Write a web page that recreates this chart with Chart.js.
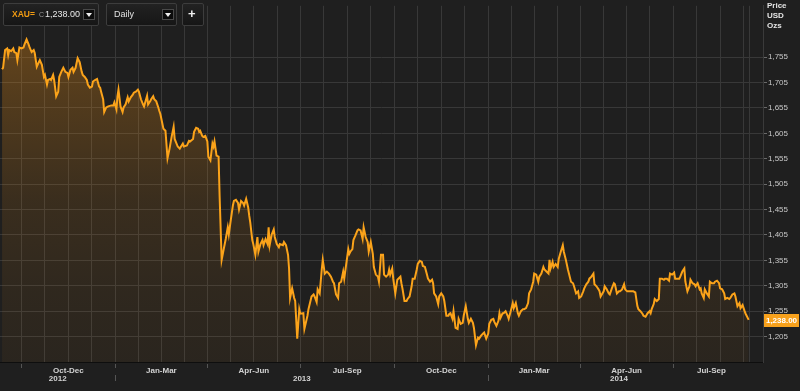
<!DOCTYPE html>
<html><head><meta charset="utf-8">
<script src="https://cdn.jsdelivr.net/npm/chart.js@4.4.1/dist/chart.umd.min.js"></script>
<style>
html,body{margin:0;padding:0;background:#1f1f1f;width:800px;height:391px;overflow:hidden;font-family:"Liberation Sans",Arial,sans-serif;}
#wrap{position:relative;width:800px;height:391px;}
#c{position:absolute;left:0;top:0;}
.box{position:absolute;top:3px;height:23px;background:linear-gradient(#222,#161616);border:1px solid #3d3d3d;border-radius:2px;box-sizing:border-box;}
.txt{position:absolute;top:5px;font-size:9px;line-height:11px;white-space:nowrap;}
.btn{position:absolute;top:5px;width:12px;height:11px;background:#0b0b0b;border:1px solid #4a4a4a;box-sizing:border-box;}
.btn:after{content:"";position:absolute;left:2px;top:3px;border-left:3px solid transparent;border-right:3px solid transparent;border-top:4px solid #eee;}
</style></head>
<body><div id="wrap">
<canvas id="c" width="800" height="391"></canvas>
<div class="box" style="left:3px;width:96px;">
  <span class="txt" style="left:8px;color:#f39c12;font-weight:bold;font-size:8.5px;">XAU=</span>
  <span class="txt" style="left:35px;color:#9a9a9a;font-size:7px;">C</span>
  <span class="txt" style="left:41px;color:#e8e8e8;" id="hdrPrice"></span>
  <div class="btn" style="left:79px;"></div>
</div>
<div class="box" style="left:106px;width:71px;">
  <span class="txt" style="left:7px;color:#e0e0e0;">Daily</span>
  <div class="btn" style="left:55px;"></div>
</div>
<div class="box" style="left:182px;width:22px;">
  <span class="txt" style="left:5px;top:3px;color:#f0f0f0;font-weight:bold;font-size:13px;line-height:14px;">+</span>
</div>
</div>
<script>
// ---- data (day offsets from 2012-09-10, daily gold price USD/oz) ----
const startDate = '2012-09-10';
const days = [2,3,5,7,8,9,11,13,14,16,17,19,21,23,24,26,28,29,31,33,34,36,38,39,41,43,44,46,47,49,50,52,53,55,57,58,60,62,64,66,67,69,71,72,74,76,78,80,81,83,85,86,88,90,91,93,95,97,98,99,101,102,104,106,109,111,112,114,115,116,118,120,121,123,125,126,128,130,131,133,135,136,138,140,141,144,145,147,148,150,151,153,155,156,
157,160,162,164,166,168,170,171,174,176,179,180,183,185,186,189,190,192,194,195,196,198,199,201,203,204,206,208,209,210,212,214,215,217,219,221,223,224,226,228,229,231,233,234,236,238,239,241,243,244,245,247,248,250,252,253,255,257,258,260,262,263,264,266,268,269,271,273,274,277,278,280,282,283,284,286,288,289,291,293,
294,297,298,301,302,305,307,308,310,311,313,315,316,318,320,322,324,326,327,329,331,332,334,336,337,339,341,342,343,345,346,348,350,351,353,355,356,358,360,361,363,365,366,368,370,371,373,375,376,378,380,381,382,384,385,387,389,390,392,393,394,396,398,399,401,403,404,406,408,409,411,413,414,416,418,419,421,423,424,425,427,429,430,432,434,435,437,439,440,441,
443,444,446,448,449,451,453,454,456,458,459,461,463,464,466,468,469,471,473,474,476,478,479,481,483,484,486,488,489,490,492,493,495,497,498,500,502,503,505,507,508,510,512,513,515,517,518,520,522,523,525,527,528,530,532,533,535,537,538,539,541,542,544,546,547,549,551,552,554,556,557,559,561,562,564,566,567,569,571,572,574,576,577,579,581,582,584,586,587,
588,591,592,594,596,597,599,601,602,604,606,607,609,611,612,614,616,620,622,624,625,627,629,630,632,634,636,637,638,640,641,643,645,646,648,650,651,653,655,656,658,660,661,663,665,666,668,670,671,673,675,676,678,680,681,683,685,686,687,689,690,692,694,695,697,699,700,702,704,705,707,709,710,712,714,715,717,719,720,722,724,725,727,729,730,733];
const prices = [1731,1734,1769,1772,1759,1769,1767,1772,1765,1763,1749,1774,1772,1774,1780,1790,1780,1774,1765,1769,1763,1736,1745,1749,1740,1716,1720,1701,1710,1712,1710,1720,1710,1678,1687,1716,1726,1734,1726,1724,1716,1730,1734,1726,1734,1753,1745,1726,1720,1716,1710,1701,1695,1697,1707,1710,1712,1697,1695,1687,1672,1647,1656,1658,1660,1660,1666,1652,1678,1691,1658,1647,1656,1662,1676,1668,1676,1681,1685,1687,1691,1687,1672,1662,1658,1679,1662,1668,1672,1678,1672,1668,1656,1649,
1643,1614,1610,1556,1575,1598,1618,1594,1579,1575,1585,1579,1581,1590,1589,1594,1608,1616,1614,1608,1610,1600,1598,1600,1589,1559,1552,1585,1579,1589,1561,1559,1482,1356,1377,1397,1420,1406,1435,1463,1472,1474,1468,1455,1472,1468,1463,1476,1459,1443,1430,1395,1387,1366,1401,1372,1387,1395,1385,1397,1387,1420,1385,1406,1416,1401,1387,1381,1387,1385,1391,1385,1366,1339,1281,1300,1281,1275,1201,1259,
1250,1251,1220,1246,1259,1284,1288,1284,1273,1298,1290,1337,1356,1329,1333,1329,1323,1313,1310,1288,1281,1310,1313,1333,1319,1348,1377,1368,1372,1377,1395,1404,1414,1416,1414,1397,1420,1401,1391,1372,1391,1368,1342,1327,1323,1313,1366,1366,1327,1323,1327,1337,1327,1339,1319,1290,1317,1319,1323,1310,1300,1275,1275,1279,1284,1304,1319,1319,1337,1348,1354,1352,1344,1342,1327,1319,1313,1317,1310,1290,1284,1269,1284,1290,1284,1275,1246,1246,1250,1251,
1240,1255,1222,1220,1240,1230,1232,1246,1265,1240,1232,1240,1232,1222,1188,1203,1201,1207,1211,1213,1201,1211,1230,1238,1240,1234,1226,1236,1251,1242,1251,1251,1255,1246,1240,1255,1271,1261,1271,1251,1246,1255,1259,1259,1261,1271,1290,1298,1313,1329,1327,1313,1323,1329,1342,1337,1333,1329,1356,1339,1352,1342,1348,1342,1358,1372,1385,1372,1356,1337,1329,1313,1310,1304,1290,1294,1281,1284,1294,1300,1308,1313,1319,1323,1329,1308,1304,1298,1294,
1284,1294,1304,1298,1290,1288,1300,1310,1308,1290,1294,1294,1298,1308,1298,1294,1294,1294,1292,1265,1259,1255,1250,1246,1244,1251,1255,1251,1259,1269,1279,1275,1279,1319,1319,1317,1319,1319,1315,1329,1327,1331,1319,1319,1319,1323,1333,1339,1313,1294,1304,1317,1310,1308,1304,1310,1298,1300,1290,1281,1298,1290,1284,1313,1310,1310,1313,1315,1310,1300,1298,1290,1279,1281,1279,1281,1288,1290,1284,1265,1271,1261,1267,1255,1250,1238];
const lastPrice = 1238.00;
const yTicks = [1205,1255,1305,1355,1405,1455,1505,1555,1605,1655,1705,1755];
const quarterStarts = ['2012-07-01','2012-10-01','2013-01-01','2013-04-01','2013-07-01','2013-10-01','2014-01-01','2014-04-01','2014-07-01','2014-10-01'];
const quarterLabels = ['Jul-Sep','Oct-Dec','Jan-Mar','Apr-Jun','Jul-Sep','Oct-Dec','Jan-Mar','Apr-Jun','Jul-Sep'];
const yearStarts = ['2012-01-01','2013-01-01','2014-01-01','2015-01-01'];
const yearLabels = ['2012','2013','2014'];
const axisTitle = ['Price','USD','Ozs'];

// ---- helpers ----
const dayOf = s => Math.round((Date.parse(s) - Date.parse(startDate)) / 86400000);
const qDays = quarterStarts.map(dayOf);
const yDays = yearStarts.map(dayOf);
const endDay = days[days.length - 1] + 1;
const xMax = 747;
const gridDays = [];
for (let i = 0; i < qDays.length - 1; i++) {
  for (let k = 0; k < 4; k++) gridDays.push(qDays[i] + (qDays[i+1] - qDays[i]) * k / 4);
}
gridDays.push(endDay);
const xGrid = gridDays.filter(d => d > 0 && d < xMax).sort((a,b)=>a-b);
const fmt = v => v.toLocaleString('en-US');
const fmt2 = v => v.toLocaleString('en-US',{minimumFractionDigits:2,maximumFractionDigits:2});
document.getElementById('hdrPrice').textContent = fmt2(lastPrice);

const FONT = '"Liberation Sans", Arial, sans-serif';

const deco = {
  id: 'deco',
  beforeDraw(c) {
    const ctx = c.ctx;
    ctx.save();
    ctx.fillStyle = '#1f1f1f';
    ctx.fillRect(0, 0, c.width, c.height);
    ctx.restore();
  },
  afterDraw(c) {
    const ctx = c.ctx, x = c.scales.x, y = c.scales.y, a = c.chartArea;
    const px = d => x.getPixelForValue(d);
    ctx.save();
    ctx.strokeStyle = '#555';
    ctx.lineWidth = 1;
    qDays.forEach(d => {
      if (d <= 0 || d >= xMax) return;
      const p = Math.round(px(d)) + 0.5;
      ctx.beginPath(); ctx.moveTo(p, a.bottom + 2); ctx.lineTo(p, a.bottom + 6); ctx.stroke();
    });
    yDays.forEach(d => {
      if (d <= 0 || d >= xMax) return;
      const p = Math.round(px(d)) + 0.5;
      ctx.beginPath(); ctx.moveTo(p, a.bottom + 13); ctx.lineTo(p, a.bottom + 19); ctx.stroke();
    });
    ctx.fillStyle = '#d2d2d2';
    ctx.font = 'bold 8px ' + FONT;
    ctx.textAlign = 'center';
    ctx.textBaseline = 'middle';
    quarterLabels.forEach((lab, i) => {
      const s = Math.max(qDays[i], 0), e = Math.min(qDays[i+1], endDay);
      if (e - s < 40) return;
      ctx.fillText(lab, (px(s) + px(e)) / 2, a.bottom + 9);
    });
    yearLabels.forEach((lab, i) => {
      const s = Math.max(yDays[i], 0), e = Math.min(yDays[i+1], endDay);
      if (e <= s) return;
      ctx.fillText(lab, (px(s) + px(e)) / 2, a.bottom + 17);
    });
    ctx.textAlign = 'left';
    ctx.fillStyle = '#e4e4e4';
    axisTitle.forEach((t, i) => ctx.fillText(t, a.right + 4, 6 + i * 10));
    const yp = Math.round(y.getPixelForValue(lastPrice));
    ctx.fillStyle = '#f7a11c';
    ctx.fillRect(a.right + 1, yp - 6, 35, 13);
    ctx.fillStyle = '#ffffff';
    ctx.textAlign = 'center';
    ctx.fillText(fmt2(lastPrice), a.right + 18.5, yp + 0.5);
    ctx.restore();
  }
};

new Chart(document.getElementById('c'), {
  type: 'line',
  data: {
    datasets: [{
      data: days.map((d, i) => ({ x: d, y: prices[i] })),
      borderColor: '#fba31a',
      borderWidth: 2,
      pointRadius: 0,
      tension: 0,
      fill: 'start',
      backgroundColor: (ctx) => {
        const a = ctx.chart.chartArea;
        if (!a) return 'rgba(0,0,0,0)';
        const g = ctx.chart.ctx.createLinearGradient(0, a.top, 0, a.bottom);
        g.addColorStop(0, 'rgba(250,150,20,0.36)');
        g.addColorStop(0.25, 'rgba(250,150,20,0.24)');
        g.addColorStop(0.55, 'rgba(250,150,20,0.12)');
        g.addColorStop(0.8, 'rgba(250,150,20,0.075)');
        g.addColorStop(1, 'rgba(250,150,20,0.05)');
        return g;
      }
    }]
  },
  options: {
    responsive: false,
    animation: false,
    devicePixelRatio: 1,
    layout: { padding: 0 },
    plugins: { legend: { display: false }, tooltip: { enabled: false } },
    scales: {
      x: {
        type: 'linear',
        min: 0,
        max: xMax,
        afterBuildTicks: s => { s.ticks = xGrid.map(v => ({ value: v })); },
        afterFit: s => { s.height = 29; },
        ticks: { display: false },
        grid: { color: '#383838', lineWidth: 1, drawTicks: false },
        border: { display: true, color: '#0e0e0e', width: 1 }
      },
      y: {
        position: 'right',
        min: 1155,
        max: 1856,
        afterBuildTicks: s => { s.ticks = yTicks.map(v => ({ value: v })); },
        afterFit: s => { s.width = 37; },
        ticks: {
          color: '#c8c8c8',
          font: { size: 8, family: FONT },
          padding: 1,
          callback: v => fmt(v)
        },
        grid: { color: '#383838', lineWidth: 1, drawTicks: true, tickLength: 4, tickColor: '#6a6a6a' },
        border: { display: true, color: '#3a3a3a' }
      }
    }
  },
  plugins: [deco]
});
</script>
</body></html>
